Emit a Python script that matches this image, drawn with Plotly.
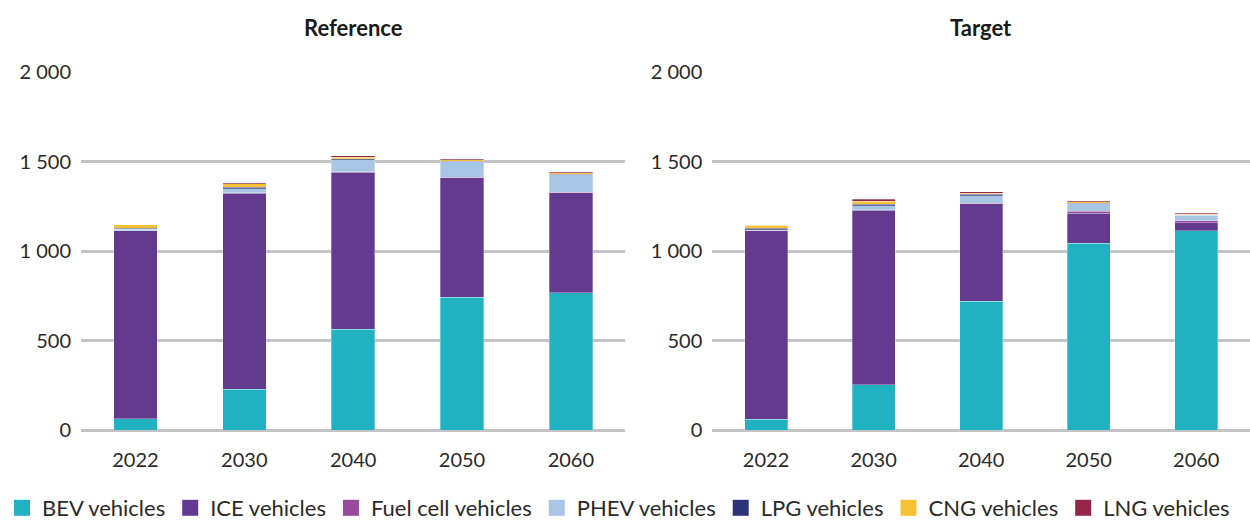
import plotly.graph_objects as go
from plotly.subplots import make_subplots

years = ["2022", "2030", "2040", "2050", "2060"]
series_names = ["BEV vehicles", "ICE vehicles", "Fuel cell vehicles", "PHEV vehicles",
                "LPG vehicles", "CNG vehicles", "LNG vehicles"]
colors = ["#20B2C0", "#643A8E", "#9A4A9E", "#A8C5E4", "#2C3376", "#F5C033", "#962648"]

# Reference scenario
ref_bev = [62, 229, 563, 741, 767]
ref_ice = [1052, 1095, 877, 667, 559]
ref_fc = [0, 1, 2, 3, 3]
ref_phev = [7, 24, 67, 87, 97]
ref_lpg = [6, 6, 5, 4, 4]
ref_cng = [20, 20, 11, 7, 7]
ref_lng = [1, 6, 7, 7, 7]

# Target scenario
tgt_bev = [61, 253, 719, 1043, 1112]
tgt_ice = [1055, 976, 546, 169, 47]
tgt_fc = [0, 1, 2, 9, 9]
tgt_phev = [3, 24, 43, 43, 32]
tgt_lpg = [8, 6, 6, 4, 2]
tgt_cng = [17, 17, 7, 7, 2]
tgt_lng = [1, 11, 7, 6, 7]

y_ticks = [0, 500, 1000, 1500, 2000]

ref_series = [ref_bev, ref_ice, ref_fc, ref_phev, ref_lpg, ref_cng, ref_lng]
tgt_series = [tgt_bev, tgt_ice, tgt_fc, tgt_phev, tgt_lpg, tgt_cng, tgt_lng]

FONT = "Lato, 'Open Sans', sans-serif"
W, H = 1250, 521
ML, MR, MT, MB = 0, 0, 72, 91
pw = W - ML - MR
ph = H - MT - MB

fig = make_subplots(rows=1, cols=2)

for col, data in ((1, ref_series), (2, tgt_series)):
    for name, vals, c in zip(series_names, data, colors):
        fig.add_trace(go.Bar(
            x=years, y=vals, name=name, marker_color=c,
            marker_line=dict(width=0.5, color="rgba(255,255,255,0.6)"),
            showlegend=False, legendgroup=name,
            hovertemplate="%{x}: %{y}<extra>" + name + "</extra>",
        ), row=1, col=col)

# legend entries (square swatches)
for name, c in zip(series_names, colors):
    fig.add_trace(go.Scatter(
        x=[None], y=[None], mode="markers", name=name, legendgroup=name,
        marker=dict(symbol="square", size=16, color=c),
        showlegend=True, hoverinfo="skip",
    ), row=1, col=1)

left_dom = [81 / pw, 625.3 / pw]
right_dom = [712.3 / pw, 1.0]

axis_font = dict(family=FONT, size=20, color="#2a2a2a")
fig.update_layout(
    width=W, height=H,
    margin=dict(l=ML, r=MR, t=MT, b=MB),
    plot_bgcolor="white", paper_bgcolor="white",
    barmode="stack", bargap=0.6,
    separators=". ",
    font=dict(family=FONT, size=20, color="#2a2a2a"),
    legend=dict(orientation="h", xref="container", yref="container",
                x=2 / W, xanchor="left",
                y=1 - 508 / H, yanchor="middle",
                font=dict(family=FONT, size=22, color="#2a2a2a"),
                itemsizing="trace", traceorder="normal", itemwidth=30),
    xaxis=dict(domain=left_dom),
    xaxis2=dict(domain=right_dom),
)

for ax in ("xaxis", "xaxis2"):
    fig.layout[ax].update(showgrid=False, showline=False, zeroline=False,
                          ticks="outside", ticklen=12, tickcolor="rgba(0,0,0,0)",
                          tickfont=axis_font)
for ax in ("yaxis", "yaxis2"):
    fig.layout[ax].update(range=[0, 2000], tickvals=y_ticks, tickformat=",d",
                          showgrid=True, gridcolor="#C4C4C8", gridwidth=2.6,
                          zeroline=True, zerolinecolor="#C4C4C8", zerolinewidth=2.6,
                          showline=False, ticks="outside", ticklen=5,
                          tickcolor="rgba(0,0,0,0)", tickfont=axis_font)

title_y = (MT + ph - 27) / ph
for txt, dom in (("Reference", left_dom), ("Target", right_dom)):
    fig.add_annotation(text="<b>" + txt + "</b>", xref="paper", yref="paper",
                       x=(dom[0] + dom[1]) / 2, y=title_y, xanchor="center",
                       yanchor="middle", showarrow=False,
                       font=dict(family=FONT, size=22, color="#1a1a1a"))

fig.write_html("out.html", config={"displayModeBar": False},
               post_script="document.body.style.margin='0';")
